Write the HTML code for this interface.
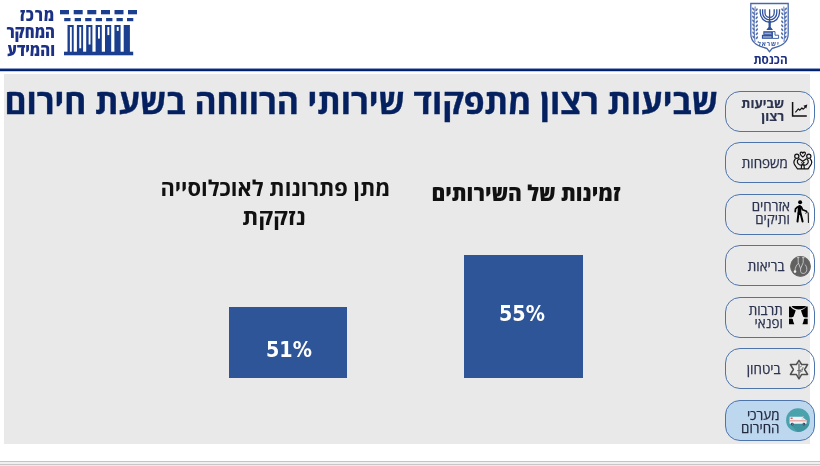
<!DOCTYPE html>
<html lang="he" dir="rtl">
<head>
<meta charset="utf-8">
<title>שביעות רצון מתפקוד שירותי הרווחה בשעת חירום</title>
<style>
*{box-sizing:border-box;margin:0;padding:0}
html,body{width:820px;height:466px;overflow:hidden;background:#fff}
body{position:relative;font-family:"Open Sans","Liberation Sans","DejaVu Sans",sans-serif;direction:rtl}
.abs{position:absolute;will-change:transform}
#rule{left:0;top:68px;width:820px;height:4px;background:linear-gradient(#8d9ec6 0,#8d9ec6 25%,#0b2979 25%,#0b2979 50%,#00206e 50%,#00206e 75%,#c3cbe2 75%)}
#panel{left:4px;top:74px;width:806px;height:370px;background:#e9e9e9}
#title{right:101.5px;top:76.7px;white-space:nowrap;font-size:33.6px;font-weight:700;-webkit-text-stroke:0.4px #04205f;color:#04205f;line-height:48px}
.ct{white-space:nowrap;font-weight:700;color:#111;text-align:center;font-size:21.7px;line-height:24.3px}
.bar{background:#2e5597}
.lbl{color:#fff;font-weight:700;font-size:21.3px;white-space:nowrap;line-height:22px;font-family:"DejaVu Sans Condensed","DejaVu Sans",sans-serif;direction:ltr}
.btn{left:725px;width:90px;height:40.8px;border:1.3px solid #4d74ab;border-radius:15px}
.btn .t{position:absolute;top:0;height:100%;display:flex;align-items:center;color:#2b3350;-webkit-text-stroke:0.25px #2b3350;font-size:13.4px;line-height:12.8px;white-space:nowrap;text-align:right}
.btn svg{position:absolute}
#foot1{left:0;top:461px;width:820px;height:1px;background:#c4c4c4}
#foot2{left:0;top:462px;width:820px;height:2px;background:#f0f0f0}
#foot3{left:0;top:464px;width:820px;height:1px;background:#c8c8c8}
#foot4{left:0;top:465px;width:820px;height:1px;background:#ececec}
</style>
</head>
<body>
<!-- left logo -->
<div class="abs" id="logotext" style="left:3.4px;top:6px;width:52px;text-align:right;color:#1c3185;font-weight:800;font-size:15px;line-height:15.9px;white-space:nowrap;transform:scaleY(1.12);transform-origin:0 0"><span style="letter-spacing:0.8px;margin-left:-0.8px">מרכז</span><br>המחקר<br>והמידע</div>
<svg class="abs" style="left:55px;top:5px" width="85" height="55" viewBox="55 5 85 55">
<g fill="#1b3f8e"><rect x="60" y="10" width="9" height="4.3"/><rect x="73.7" y="10" width="9" height="4.3"/><rect x="87.3" y="10" width="9" height="4.3"/><rect x="101" y="10" width="9" height="4.3"/><rect x="114.5" y="10" width="9" height="4.3"/><rect x="128" y="10" width="9" height="4.3"/><rect x="64.2" y="18" width="6.3" height="3.2"/><rect x="74.7" y="18" width="6.3" height="3.2"/><rect x="85.2" y="18" width="6.3" height="3.2"/><rect x="95.7" y="18" width="6.3" height="3.2"/><rect x="106.1" y="18" width="6.3" height="3.2"/><rect x="116.5" y="18" width="6.3" height="3.2"/><rect x="127" y="18" width="6.3" height="3.2"/><rect x="67.5" y="25" width="6.2" height="27"/><rect x="76.9" y="25" width="6.2" height="27"/><rect x="86.2" y="25" width="6.2" height="27"/><rect x="95.6" y="25" width="6.2" height="27"/><rect x="105" y="25" width="6.2" height="27"/><rect x="114.4" y="25" width="6.2" height="27"/><rect x="123.7" y="25" width="6.2" height="27"/><rect x="64" y="51.7" width="69.2" height="3.6"/></g><g fill="#fff"><rect x="69.9" y="27" width="1.9" height="24.7"/><rect x="79.3" y="27" width="1.9" height="21.3"/><rect x="88.6" y="27" width="1.9" height="17.5"/><rect x="98.0" y="27" width="1.9" height="11.6"/><rect x="107.4" y="27" width="1.9" height="8.1"/><rect x="116.8" y="27" width="1.9" height="3.9"/></g>
</svg>

<!-- Knesset emblem -->
<svg class="abs" style="left:745px;top:0" width="50" height="67" viewBox="745 0 50 67">
<path d="M750.8,3.5 H788.2 V34 C788.2,43.5 780,46.5 772,48.5 L769.5,51.6 L767,48.5 C759,46.5 750.8,43.5 750.8,34 Z" fill="none" stroke="#4767ab" stroke-width="1.3"/>
<g fill="none" stroke="#2f509b" stroke-width="1.3">
<path d="M769.6,9.3 V27"/>
<path d="M760.2,9.3 V12.6 A9.65,9.65 0 0 0 779.5,12.6 V9.3"/>
<path d="M762.6,9.3 V12.7 A7.1,7.1 0 0 0 776.8,12.7 V9.3"/>
<path d="M765,9.3 V12.7 A4.6,4.6 0 0 0 774.2,12.7 V9.3"/>
</g>
<g fill="none" stroke="#4a69ad" stroke-width="0.9">
<path d="M755,42 C753.8,31 753.8,19 755.2,6.5"/>
<path d="M784,42 C785.2,31 785.2,19 783.8,6.5"/>
</g>
<g fill="#2f509b">
<path d="M768.5,21 L768.6,27 L766.3,30 H773 L770.7,27 L770.8,21 Z"/>
<rect x="763.3" y="31.2" width="9.2" height="3.6"/>
<rect x="761.9" y="34.8" width="10.6" height="4"/>
</g>
<g fill="#fff"><rect x="764.3" y="32.8" width="7" height="0.7"/><rect x="763" y="36.6" width="8.5" height="0.8"/></g>
<g fill="none" stroke="#2f509b" stroke-width="0.9"><path d="M772.5,31.6 H775 V35.2 H778.6 V38.4 H772.5 Z"/></g>
<g fill="#5572b2"><ellipse cx="753.20" cy="9" rx="0.9" ry="1.7" transform="rotate(-35 753.20 9)"/><ellipse cx="756.60" cy="9.8" rx="0.9" ry="1.7" transform="rotate(35 756.60 9.8)"/><ellipse cx="785.80" cy="9" rx="0.9" ry="1.7" transform="rotate(35 785.80 9)"/><ellipse cx="782.40" cy="9.8" rx="0.9" ry="1.7" transform="rotate(-35 782.40 9.8)"/><ellipse cx="753.25" cy="13" rx="0.9" ry="1.7" transform="rotate(-35 753.25 13)"/><ellipse cx="756.64" cy="13.8" rx="0.9" ry="1.7" transform="rotate(35 756.64 13.8)"/><ellipse cx="785.75" cy="13" rx="0.9" ry="1.7" transform="rotate(35 785.75 13)"/><ellipse cx="782.36" cy="13.8" rx="0.9" ry="1.7" transform="rotate(-35 782.36 13.8)"/><ellipse cx="753.29" cy="17" rx="0.9" ry="1.7" transform="rotate(-35 753.29 17)"/><ellipse cx="756.69" cy="17.8" rx="0.9" ry="1.7" transform="rotate(35 756.69 17.8)"/><ellipse cx="785.71" cy="17" rx="0.9" ry="1.7" transform="rotate(35 785.71 17)"/><ellipse cx="782.31" cy="17.8" rx="0.9" ry="1.7" transform="rotate(-35 782.31 17.8)"/><ellipse cx="753.34" cy="21" rx="0.9" ry="1.7" transform="rotate(-35 753.34 21)"/><ellipse cx="756.74" cy="21.8" rx="0.9" ry="1.7" transform="rotate(35 756.74 21.8)"/><ellipse cx="785.66" cy="21" rx="0.9" ry="1.7" transform="rotate(35 785.66 21)"/><ellipse cx="782.26" cy="21.8" rx="0.9" ry="1.7" transform="rotate(-35 782.26 21.8)"/><ellipse cx="753.38" cy="25" rx="0.9" ry="1.7" transform="rotate(-35 753.38 25)"/><ellipse cx="756.78" cy="25.8" rx="0.9" ry="1.7" transform="rotate(35 756.78 25.8)"/><ellipse cx="785.62" cy="25" rx="0.9" ry="1.7" transform="rotate(35 785.62 25)"/><ellipse cx="782.22" cy="25.8" rx="0.9" ry="1.7" transform="rotate(-35 782.22 25.8)"/><ellipse cx="753.43" cy="29" rx="0.9" ry="1.7" transform="rotate(-35 753.43 29)"/><ellipse cx="756.83" cy="29.8" rx="0.9" ry="1.7" transform="rotate(35 756.83 29.8)"/><ellipse cx="785.57" cy="29" rx="0.9" ry="1.7" transform="rotate(35 785.57 29)"/><ellipse cx="782.17" cy="29.8" rx="0.9" ry="1.7" transform="rotate(-35 782.17 29.8)"/><ellipse cx="753.47" cy="33" rx="0.9" ry="1.7" transform="rotate(-35 753.47 33)"/><ellipse cx="756.87" cy="33.8" rx="0.9" ry="1.7" transform="rotate(35 756.87 33.8)"/><ellipse cx="785.53" cy="33" rx="0.9" ry="1.7" transform="rotate(35 785.53 33)"/><ellipse cx="782.13" cy="33.8" rx="0.9" ry="1.7" transform="rotate(-35 782.13 33.8)"/><ellipse cx="753.52" cy="37" rx="0.9" ry="1.7" transform="rotate(-35 753.52 37)"/><ellipse cx="756.92" cy="37.8" rx="0.9" ry="1.7" transform="rotate(35 756.92 37.8)"/><ellipse cx="785.48" cy="37" rx="0.9" ry="1.7" transform="rotate(35 785.48 37)"/><ellipse cx="782.08" cy="37.8" rx="0.9" ry="1.7" transform="rotate(-35 782.08 37.8)"/></g>
<text x="768.6" y="46.3" text-anchor="middle" direction="rtl" font-family="Open Sans, Liberation Sans, sans-serif" font-size="6.4" font-weight="700" letter-spacing="0.9" fill="#3f5fa6">ישראל</text>
<text x="770.5" y="63.5" text-anchor="middle" direction="rtl" font-family="Open Sans, Liberation Sans, sans-serif" font-weight="700" font-size="11.7" fill="#1c2f80">הכנסת</text>
</svg>

<div class="abs" id="rule"></div>
<div class="abs" id="panel"></div>

<svg class="abs" style="left:0;top:0" width="820" height="466" viewBox="0 0 820 466">
<text x="361.3" y="113.6" text-anchor="middle" direction="rtl" font-family="'Open Sans','Liberation Sans','DejaVu Sans',sans-serif" font-size="33.6" font-weight="700" fill="#04205f" stroke="#04205f" stroke-width="0.4" textLength="713.6" lengthAdjust="spacingAndGlyphs">שביעות רצון מתפקוד שירותי הרווחה בשעת חירום</text>
<g font-family="'Open Sans','Liberation Sans','DejaVu Sans',sans-serif" fill="#111" text-anchor="middle" direction="rtl">
<text x="275.4" y="196" font-size="21.95" font-weight="700" textLength="230" lengthAdjust="spacingAndGlyphs">מתן פתרונות לאוכלוסייה</text>
<text x="273.9" y="224.7" font-size="21.95" font-weight="700" textLength="63.5" lengthAdjust="spacingAndGlyphs">נזקקת</text>
<text x="526" y="200.9" font-size="21.7" font-weight="800" textLength="189" lengthAdjust="spacingAndGlyphs">זמינות של השירותים</text>
</g>
</svg>




<div class="abs bar" style="left:229px;top:307px;width:118px;height:71px"></div>
<div class="abs bar" style="left:464px;top:255px;width:119px;height:123px"></div>
<div class="abs lbl" style="left:266px;top:339px">51%</div>
<div class="abs lbl" style="left:498.7px;top:303px">55%</div>

<!-- sidebar buttons -->
<div class="abs btn" style="top:90.60px"><div class="t" style="top:-1.8px;right:29.9px;font-weight:700;font-size:13px;line-height:12.6px;color:#2c3450;-webkit-text-stroke:0.15px #2c3450">שביעות<br>רצון</div></div>
<div class="abs btn" style="top:142.15px"><div class="t" style="top:0.8px;right:26.2px">משפחות</div></div>
<div class="abs btn" style="top:193.70px"><div class="t" style="top:-1.3px;right:24.2px">אזרחים<br>ותיקים</div></div>
<div class="abs btn" style="top:245.25px"><div class="t" style="top:0.8px;right:29.5px">בריאות</div></div>
<div class="abs btn" style="top:296.80px"><div class="t" style="top:-0.2px;right:31.2px">תרבות<br>ופנאי</div></div>
<div class="abs btn" style="top:348.35px"><div class="t" style="top:0.5px;right:33.5px">ביטחון</div></div>
<div class="abs btn" style="top:399.90px;background:#bdd7ee"><div class="t" style="top:1.2px;right:34.5px;color:#1f2535">מערכי<br>החירום</div></div>

<svg class="abs" style="left:0;top:0" width="820" height="466" viewBox="0 0 820 466">
<!-- chart icon -->
<g fill="none" stroke="#111" stroke-width="1.5">
<path d="M792.6,102.1 V116 H806.8"/>
</g>
<g fill="none" stroke="#111" stroke-width="1.2" stroke-linejoin="round">
<path d="M795.4,112.3 L798.4,108.9 L799.8,110.2 L801.9,108 L803.3,109.2 L805.3,107.2"/>
</g>
<path d="M803.4,105.8 L807.3,104.6 L806.3,108.5 Z" fill="#111"/>
<!-- family icon -->
<g fill="none" stroke="#111" stroke-width="1.2" stroke-linecap="round" stroke-linejoin="round">
<path d="M802.8,157 C799.8,154.8 799.6,152.2 801.3,152.2 C802.1,152.2 802.6,152.8 802.8,153.3 C803,152.8 803.5,152.2 804.3,152.2 C806,152.2 805.8,154.8 802.8,157 Z"/>
<circle cx="796.8" cy="156.2" r="2.1"/>
<circle cx="808.8" cy="156.2" r="2.1"/>
<path d="M795.2,159 C793.5,161 793.8,164 795.5,166 L797.5,168.8 H808.1 L810.1,166 C811.8,164 812.1,161 810.4,159"/>
<path d="M798.5,159.2 C796.6,160.6 797,163.5 799.5,164.8 C800.8,165.4 801.8,165 802.8,164.6"/>
<path d="M807.1,159.2 C809,160.6 808.6,163.5 806.1,164.8 C804.8,165.4 803.8,165 802.8,164.6"/>
<path d="M799.2,158.8 L802.8,161.2 L806.4,158.8"/>
<circle cx="802.8" cy="162.7" r="1.1" fill="#fff" stroke-width="1"/>
<path d="M801.6,165.3 L801.3,168.5 M804,165.3 L804.3,168.5"/>
</g>
<!-- elderly icon -->
<g fill="none" stroke="#000" stroke-linecap="round" stroke-linejoin="round">
<circle cx="800.1" cy="202.3" r="2" fill="#000" stroke="none"/>
<path d="M799.6,206.8 L799.4,213.2" stroke-width="3.6"/>
<path d="M797.6,206.9 L795.5,208.8 L795.2,211.6" stroke-width="1.7"/>
<path d="M801.4,207 L802.6,209.8 L806.5,211.3" stroke-width="1.7"/>
<path d="M798.5,213 L797.5,221.6 M800.5,213 L802.6,221.5" stroke-width="2"/>
<path d="M805.8,213.3 C806,211.8 807.6,211.6 808.2,212.8 L808.4,222.5" stroke-width="1"/>
</g>
<!-- health icon -->
<circle cx="800.5" cy="266.4" r="10.3" fill="#616161"/>
<circle cx="800.5" cy="266.4" r="9.8" fill="none" stroke="#6a6a6a" stroke-width="0.8"/>
<g fill="none" stroke="#d2d2d2" stroke-width="0.85" stroke-linecap="round" stroke-linejoin="round">
<path d="M798.2,257.8 V262.6 L800.6,268.6 L803.2,262.6 V257.8"/>
<path d="M797.4,257.6 H799 M802.5,257.6 H804.1"/>
<path d="M800.6,268.6 V271.4 C801,274.4 806.6,274.4 806.8,269.6 C806.9,266.8 806,265.4 805,264.6"/>
<path d="M798.4,263.3 C796.4,264.8 795.2,267.6 795,270.4"/>
</g>
<circle cx="795" cy="271.6" r="1.3" fill="#f2f2f2"/>
<!-- curtains -->
<g fill="#000">
<path d="M791.5,306.1 H806.2 C805,308.3 802,309.5 798.85,309.5 C795.7,309.5 792.7,308.3 791.5,306.1 Z"/>
<path d="M789,306.4 H790.6 C791.8,308.6 793.8,309.8 795.7,310.2 C795,313 794,315.4 793.2,316.9 H789 Z"/>
<path d="M807.7,306.4 H806.1 C804.9,308.6 802.9,309.8 801,310.2 C801.7,313 802.7,315.4 803.5,316.9 H807.7 Z"/>
<path d="M789,319 H792.7 C792.9,320.7 793.6,322.6 794.3,324.3 H789 Z"/>
<path d="M807.7,319 H804 C803.8,320.7 803.1,322.6 802.4,324.3 H807.7 Z"/>
<rect x="789" y="317.6" width="3.2" height="0.7"/>
<rect x="804.5" y="317.6" width="3.2" height="0.7"/>
</g>
<!-- star -->
<path d="M799,360.4 L801.6,364.5 L807.6,364.5 L804.6,369.5 L807.6,374.4 L801.7,374.4 L799,378.8 L796.3,374.4 L790.4,374.4 L793.4,369.5 L790.4,364.5 L796.4,364.5 Z" fill="#efefef" stroke="#505050" stroke-width="1.5" stroke-linejoin="round"/>
<g fill="none" stroke="#6a6a6a" stroke-linecap="round">
<path d="M799,364 V376.5" stroke-width="1.4"/>
<path d="M797.6,370.6 H800.6" stroke-width="1"/>
<path d="M799.8,372.5 C802,371.5 803,369.5 803.1,367.4" stroke-width="0.9"/>
<path d="M800.2,367 L801.5,366.2 M801,369.4 L802.5,369 M800.5,371 L802,371.3" stroke-width="0.8"/>
</g>
<!-- ambulance -->
<circle cx="798" cy="420.2" r="11.9" fill="#4aa2ad"/>
<clipPath id="amb"><circle cx="798" cy="420.2" r="11.9"/></clipPath><path clip-path="url(#amb)" d="M806.6,422 L815,430 L805,440 L790.5,424.5 Z" fill="#3e929d" opacity="0.85"/>
<path d="M789.6,416.8 H802.2 L805.4,419.6 L806.6,420.4 V423.8 H789.6 Z" fill="#eef3f5"/>
<rect x="789.6" y="420" width="17" height="1.5" fill="#e6aeae"/>
<rect x="790.6" y="417.6" width="2" height="1.2" fill="#d9343a"/>
<path d="M801.6,417.4 H802.4 L804.6,419.4 H801.6 Z" fill="#bfe0e8"/>
<rect x="802.3" y="416" width="1.6" height="0.7" fill="#e6aeae"/>
<circle cx="792.3" cy="424.1" r="1.3" fill="#2a3158"/>
<circle cx="803.9" cy="424.1" r="1.3" fill="#2a3158"/>
<circle cx="792.3" cy="424.1" r="0.5" fill="#ddd"/>
<circle cx="803.9" cy="424.1" r="0.5" fill="#ddd"/>
</svg>
<div class="abs" id="foot1"></div><div class="abs" id="foot2"></div><div class="abs" id="foot3"></div><div class="abs" id="foot4"></div>
</body>
</html>
